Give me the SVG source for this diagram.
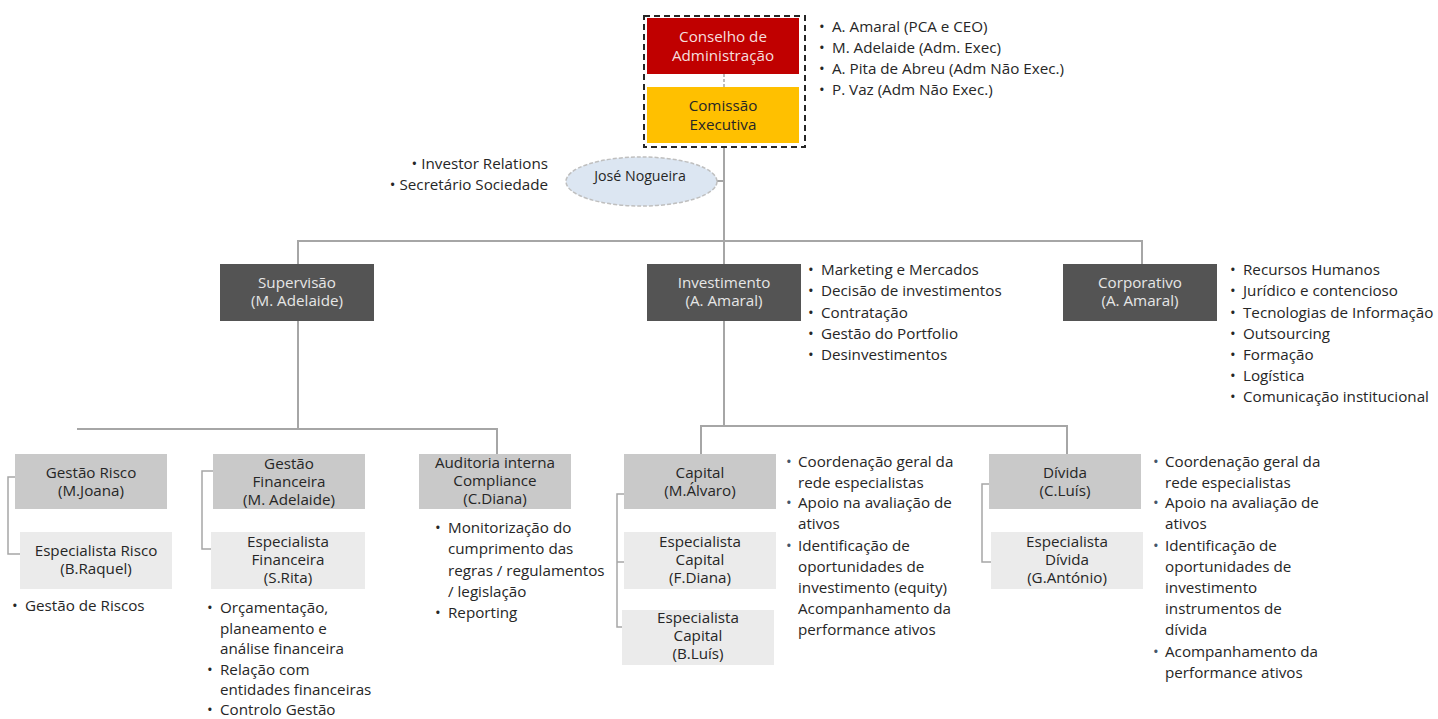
<svg xmlns="http://www.w3.org/2000/svg" width="1438" height="719" viewBox="0 0 1438 719">
<style>
.conn{stroke:#a6a6a6;stroke-width:2;fill:none}
.br{stroke:#a6a6a6;stroke-width:1.5;fill:none}
.t{font-family:"Open Sans","Liberation Sans",sans-serif;font-size:15.2px;fill:#262626}
.c{text-anchor:middle}
.e{text-anchor:end}
.lt{fill:#e6e6e6}
.pk{fill:#f5dede}
.bb{fill:#44546a}
.dark{fill:#545454}
.mid{fill:#c9c9c9}
.light{fill:#ebebeb}
</style>
<rect width="1438" height="719" fill="#ffffff"/>

<g id="connectors">
  <line class="conn" x1="724" y1="147" x2="724" y2="241"/>
  <line class="conn" x1="717" y1="181" x2="724" y2="181"/>
  <polyline class="conn" points="298,264 298,241 1142,241 1142,264"/>
  <line class="conn" x1="724" y1="241" x2="724" y2="264"/>
  <line class="conn" x1="298" y1="321" x2="298" y2="429"/>
  <polyline class="conn" points="77,429 497,429 497,454"/>
  <line class="conn" x1="724" y1="321" x2="724" y2="426"/>
  <polyline class="conn" points="701,454 701,426 1067,426 1067,454"/>
  <path class="br" d="M15,477 H8 V554 H20"/>
  <path class="br" d="M213,471 H202 V549 H211"/>
  <path class="br" d="M624,494 H617 V627 H622 M617,562 H624"/>
  <path class="br" d="M989,484 H982 V562 H991"/>
</g>

<g id="board">
  <rect x="644" y="16" width="161" height="131" fill="none" stroke="#262626" stroke-width="2" stroke-dasharray="6,4"/>
  <line x1="724" y1="74" x2="724" y2="87" stroke="#a6a6a6" stroke-width="1.5" stroke-dasharray="3,2"/>
</g>

<g id="conselho">
  <rect x="647" y="18" width="152" height="56" fill="#c00000"/>
  <text class="t c pk" x="723" y="42">Conselho de<tspan x="723" dy="19">Administração</tspan></text>
</g>

<g id="comissao">
  <rect x="647" y="87" width="152" height="56" fill="#ffc000"/>
  <text class="t c" x="723" y="111">Comissão<tspan x="723" dy="19">Executiva</tspan></text>
</g>

<g id="board-members">
  <text class="t" x="819" y="32">•</text><text class="t" x="832" y="32">A. Amaral (PCA e CEO)</text>
  <text class="t" x="819" y="53">•</text><text class="t" x="832" y="53">M. Adelaide (Adm. Exec)</text>
  <text class="t" x="819" y="74">•</text><text class="t" x="832" y="74">A. Pita de Abreu (Adm Não Exec.)</text>
  <text class="t" x="819" y="95">•</text><text class="t" x="832" y="95">P. Vaz (Adm Não Exec.)</text>
</g>

<g id="jose">
  <ellipse cx="641.5" cy="181.5" rx="75.5" ry="24.5" fill="#dce6f2" stroke="#bfbfbf" stroke-width="1.5" stroke-dasharray="4,2"/>
  <text class="t c" x="640" y="181" style="font-size:14.2px">José Nogueira</text>
  <text class="t e" x="548" y="169">•  Investor Relations</text>
  <text class="t e" x="548" y="190">•  Secretário Sociedade</text>
</g>

<g id="supervisao">
  <rect x="220" y="264" width="154" height="57" class="dark"/>
  <text class="t c lt" x="297" y="288">Supervisão<tspan x="297" dy="18">(M. Adelaide)</tspan></text>
</g>

<g id="investimento">
  <rect x="647" y="264" width="154" height="57" class="dark"/>
  <text class="t c lt" x="724" y="288">Investimento<tspan x="724" dy="18">(A. Amaral)</tspan></text>
  <text class="t" x="808" y="275">•</text><text class="t" x="821" y="275">Marketing e Mercados</text>
  <text class="t" x="808" y="296">•</text><text class="t" x="821" y="296">Decisão de investimentos</text>
  <text class="t" x="808" y="318">•</text><text class="t" x="821" y="318">Contratação</text>
  <text class="t" x="808" y="339">•</text><text class="t" x="821" y="339">Gestão do Portfolio</text>
  <text class="t" x="808" y="360">•</text><text class="t" x="821" y="360">Desinvestimentos</text>
</g>

<g id="corporativo">
  <rect x="1063" y="264" width="154" height="57" class="dark"/>
  <text class="t c lt" x="1140" y="288">Corporativo<tspan x="1140" dy="18">(A. Amaral)</tspan></text>
  <text class="t" x="1230" y="275">•</text><text class="t" x="1243" y="275">Recursos Humanos</text>
  <text class="t" x="1230" y="296">•</text><text class="t" x="1243" y="296">Jurídico e contencioso</text>
  <text class="t" x="1230" y="318">•</text><text class="t" x="1243" y="318">Tecnologias de Informação</text>
  <text class="t" x="1230" y="339">•</text><text class="t" x="1243" y="339">Outsourcing</text>
  <text class="t" x="1230" y="360">•</text><text class="t" x="1243" y="360">Formação</text>
  <text class="t" x="1230" y="381">•</text><text class="t" x="1243" y="381">Logística</text>
  <text class="t" x="1230" y="402">•</text><text class="t" x="1243" y="402">Comunicação institucional</text>
</g>

<g id="gestao-risco">
  <rect x="15" y="454" width="152" height="55" class="mid"/>
  <text class="t c" x="91" y="478">Gestão Risco<tspan x="91" dy="18">(M.Joana)</tspan></text>
</g>
<g id="especialista-risco">
  <rect x="20" y="532" width="152" height="57" class="light"/>
  <text class="t c" x="96" y="556">Especialista Risco<tspan x="96" dy="18">(B.Raquel)</tspan></text>
  <text class="t" x="12" y="611">•</text><text class="t" x="25" y="611">Gestão de Riscos</text>
</g>

<g id="gestao-financeira">
  <rect x="213" y="454" width="152" height="55" class="mid"/>
  <text class="t c" x="289" y="469">Gestão<tspan x="289" dy="18">Financeira</tspan><tspan x="289" dy="18">(M. Adelaide)</tspan></text>
</g>
<g id="especialista-financeira">
  <rect x="211" y="532" width="154" height="57" class="light"/>
  <text class="t c" x="288" y="547">Especialista<tspan x="288" dy="18">Financeira</tspan><tspan x="288" dy="18">(S.Rita)</tspan></text>
  <text class="t" x="207" y="613">•</text><text class="t" x="220" y="613">Orçamentação,</text>
  <text class="t" x="220" y="634">planeamento e</text>
  <text class="t" x="220" y="654">análise financeira</text>
  <text class="t" x="207" y="675">•</text><text class="t" x="220" y="675">Relação com</text>
  <text class="t" x="220" y="695">entidades financeiras</text>
  <text class="t" x="207" y="715">•</text><text class="t" x="220" y="715">Controlo Gestão</text>
</g>

<g id="auditoria">
  <rect x="419" y="454" width="152" height="55" class="mid"/>
  <text class="t c" x="495" y="468">Auditoria interna<tspan x="495" dy="18">Compliance</tspan><tspan x="495" dy="18">(C.Diana)</tspan></text>
  <text class="t" x="435" y="533">•</text><text class="t" x="448" y="533">Monitorização do</text>
  <text class="t" x="448" y="554">cumprimento das</text>
  <text class="t" x="448" y="576">regras / regulamentos</text>
  <text class="t" x="448" y="597">/ legislação</text>
  <text class="t" x="435" y="618">•</text><text class="t" x="448" y="618">Reporting</text>
</g>

<g id="capital">
  <rect x="624" y="454" width="152" height="55" class="mid"/>
  <text class="t c" x="700" y="478">Capital<tspan x="700" dy="18">(M.Álvaro)</tspan></text>
  <text class="t bb" x="786" y="467">•</text><text class="t" x="798" y="467">Coordenação geral da</text>
  <text class="t" x="798" y="488">rede especialistas</text>
  <text class="t bb" x="786" y="508">•</text><text class="t" x="798" y="508">Apoio na avaliação de</text>
  <text class="t" x="798" y="529">ativos</text>
  <text class="t bb" x="786" y="551">•</text><text class="t" x="798" y="551">Identificação de</text>
  <text class="t" x="798" y="572">oportunidades de</text>
  <text class="t" x="798" y="593">investimento (equity)</text>
  <text class="t" x="798" y="614">Acompanhamento da</text>
  <text class="t" x="798" y="635">performance ativos</text>
</g>
<g id="especialista-capital-1">
  <rect x="624" y="532" width="152" height="57" class="light"/>
  <text class="t c" x="700" y="547">Especialista<tspan x="700" dy="18">Capital</tspan><tspan x="700" dy="18">(F.Diana)</tspan></text>
</g>
<g id="especialista-capital-2">
  <rect x="622" y="610" width="152" height="55" class="light"/>
  <text class="t c" x="698" y="623">Especialista<tspan x="698" dy="18">Capital</tspan><tspan x="698" dy="18">(B.Luís)</tspan></text>
</g>

<g id="divida">
  <rect x="989" y="454" width="152" height="55" class="mid"/>
  <text class="t c" x="1065" y="478">Dívida<tspan x="1065" dy="18">(C.Luís)</tspan></text>
  <text class="t bb" x="1153" y="467">•</text><text class="t" x="1165" y="467">Coordenação geral da</text>
  <text class="t" x="1165" y="488">rede especialistas</text>
  <text class="t bb" x="1153" y="508">•</text><text class="t" x="1165" y="508">Apoio na avaliação de</text>
  <text class="t" x="1165" y="529">ativos</text>
  <text class="t bb" x="1153" y="551">•</text><text class="t" x="1165" y="551">Identificação de</text>
  <text class="t" x="1165" y="572">oportunidades de</text>
  <text class="t" x="1165" y="593">investimento</text>
  <text class="t" x="1165" y="614">instrumentos de</text>
  <text class="t" x="1165" y="635">dívida</text>
  <text class="t bb" x="1153" y="657">•</text><text class="t" x="1165" y="657">Acompanhamento da</text>
  <text class="t" x="1165" y="678">performance ativos</text>
</g>
<g id="especialista-divida">
  <rect x="991" y="532" width="152" height="57" class="light"/>
  <text class="t c" x="1067" y="547">Especialista<tspan x="1067" dy="18">Dívida</tspan><tspan x="1067" dy="18">(G.António)</tspan></text>
</g>
</svg>
